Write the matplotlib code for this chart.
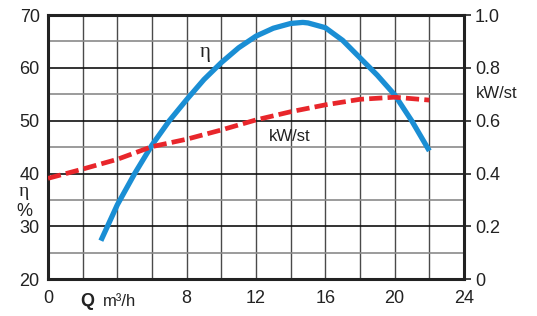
import matplotlib
matplotlib.use("Agg")
import matplotlib.pyplot as plt

# --- data ---
q_eta = [3.05, 4, 5, 6, 7, 8, 9, 10, 11, 12, 13, 14, 14.7, 15, 16, 17, 18, 19, 20, 21, 22]
eta = [27.3, 34.1, 40.0, 45.4, 50.0, 54.0, 57.8, 61.0, 63.8, 66.0, 67.5, 68.4, 68.6,
       68.5, 67.6, 65.2, 61.9, 58.6, 54.9, 49.9, 44.3]

q_kw = [0, 2, 4, 6, 8, 10, 12, 14, 16, 18, 20, 22]
kw = [0.382, 0.417, 0.454, 0.502, 0.530, 0.565, 0.603, 0.634, 0.660, 0.681, 0.689, 0.678]

x_ticks = [0, 8, 12, 16, 20, 24]
eta_ticks = [20, 30, 40, 50, 60, 70]
kw_ticks = [0, 0.2, 0.4, 0.6, 0.8, 1.0]
kw_tick_labels = ["0", "0.2", "0.4", "0.6", "0.8", "1.0"]

plt.rcParams['font.family'] = ['Liberation Sans', 'DejaVu Sans']

fig = plt.figure(figsize=(5.37, 3.16), dpi=100)
ax = fig.add_axes([48/537, 1-279.3/316, 416/537, 264.3/316])
ax.set_xlim(0, 24)
ax.set_ylim(20, 70)

# grid
for x in range(2, 24, 2):
    ax.axvline(x, color='#4a4a4a', lw=1.0, zorder=1)
for y in range(25, 70, 5):
    c = '#111111' if y % 10 == 0 else '#8a8a8a'
    ax.axhline(y, color=c, lw=1.2, zorder=1)

for s in ax.spines.values():
    s.set_linewidth(2.2)
    s.set_color('#222222')
    s.set_zorder(5)

ax.set_xticks(x_ticks)
ax.set_xticklabels([str(v) for v in x_ticks])
ax.set_yticks(eta_ticks)
ax.set_yticklabels([str(v) for v in eta_ticks])
ax.tick_params(axis='both', length=0, labelsize=13, colors='#222222')
ax.tick_params(axis='x', pad=8)
ax.tick_params(axis='y', pad=6)

ax.plot(q_eta, eta, color='#1a8ed4', lw=3.8, solid_capstyle='butt',
        solid_joinstyle='round', zorder=3)

ax2 = ax.twinx()
ax2.set_ylim(0, 1.0)
ax2.set_yticks(kw_ticks)
ax2.set_yticklabels(kw_tick_labels)
ax2.tick_params(axis='y', length=5, width=1.2, labelsize=13, colors='#222222', pad=3)
for s in ax2.spines.values():
    s.set_visible(False)
ax2.plot(q_kw, kw, color='#e8262b', lw=3.4, dashes=(2.8, 1.1),
         dash_capstyle='butt', zorder=4)

# texts
fig.text(205/537, 1-53/316, 'η', fontsize=15, family='Liberation Serif',
         ha='center', va='center', color='#222222')
fig.text(290/537, 1-136/316, 'kW/st', fontsize=12, ha='center', va='center', color='#222222')
fig.text(497/537, 1-94/316, 'kW/st', fontsize=12, ha='center', va='center', color='#222222')
fig.text(24/537, 1-191/316, 'η', fontsize=14, family='Liberation Serif',
         ha='center', va='center', color='#222222')
fig.text(24/537, 1-212/316, '%', fontsize=13, ha='center', va='center', color='#222222')
fig.text(87/537, 1-302/316, 'Q', fontsize=13, fontweight='bold', ha='center',
         va='center', color='#222222')
fig.text(120/537, 1-302/316, 'm³/h', fontsize=12, ha='center', va='center', color='#222222')

fig.savefig('out.png', dpi=100)
